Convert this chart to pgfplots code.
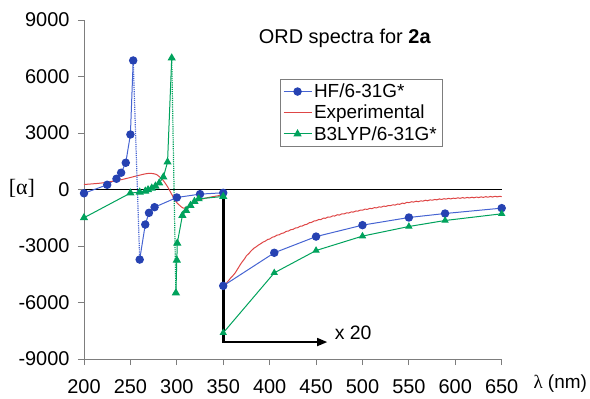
\documentclass[border=0pt]{standalone}
\usepackage{pgfplots}
\pgfplotsset{compat=1.18}
\usepackage{fontspec}
\setmainfont{Liberation Sans}
\newfontfamily\serif{Liberation Serif}
\usetikzlibrary{arrows.meta}
\definecolor{hfblue}{RGB}{38,66,178}
\definecolor{hfline}{RGB}{70,100,210}
\definecolor{expred}{RGB}{222,70,70}
\definecolor{bgreen}{RGB}{0,162,92}
\definecolor{axgray}{RGB}{125,125,125}

\pgfplotstableread{
x y
200 265
220 350
240 520
255 700
265 820
271 860
278 800
285 500
290 150
295 -300
300 -700
307 -990
312 -900
320 -650
330 -470
340 -370
350 -290
}\expA

\pgfplotstableread{
x y
350 -5190
353 -5000
355 -4880
358 -4700
360 -4600
363 -4420
365 -4260
368 -4020
370 -3870
373 -3680
375 -3520
378 -3380
380 -3260
383 -3120
385 -3060
388 -2950
390 -2890
393 -2790
395 -2750
398 -2650
400 -2630
403 -2530
405 -2510
408 -2420
410 -2410
413 -2330
415 -2310
418 -2220
420 -2210
423 -2130
425 -2120
428 -2040
430 -2030
433 -1950
435 -1940
438 -1870
440 -1850
443 -1760
445 -1750
448 -1670
450 -1660
453 -1590
455 -1600
458 -1520
460 -1530
463 -1460
465 -1470
468 -1400
470 -1410
473 -1340
475 -1360
478 -1290
480 -1300
483 -1240
485 -1250
488 -1190
490 -1200
493 -1140
495 -1150
498 -1090
500 -1100
503 -1040
505 -1060
508 -1000
510 -1020
513 -960
515 -980
518 -920
520 -940
523 -880
525 -900
528 -850
530 -860
533 -810
535 -830
538 -770
540 -790
543 -720
545 -750
548 -680
550 -700
553 -650
555 -670
558 -620
560 -650
563 -600
565 -620
568 -570
570 -600
573 -550
575 -570
578 -530
580 -550
583 -500
585 -530
588 -490
590 -510
593 -470
595 -500
598 -460
600 -480
603 -440
605 -470
608 -430
610 -460
613 -420
615 -450
618 -410
620 -440
623 -400
625 -430
628 -390
630 -420
633 -380
635 -410
638 -370
640 -400
643 -360
645 -390
648 -360
650 -380
}\expB

\begin{document}
\begin{tikzpicture}
\begin{axis}[name=ax, at={(0,0)}, anchor=south west,
 scale only axis, width=417.7bp, height=339bp,
 xmin=200, xmax=650, ymin=-9000, ymax=9000,
 axis x line=bottom, axis y line=left,
 axis line style={-, axgray, line width=0.8bp},
 tick align=outside, major tick length=6bp,
 tick style={axgray, line width=0.8bp},
 xtick={200,250,...,650}, ytick={-9000,-6000,...,9000},
 /pgf/number format/assume math mode=true, /pgf/number format/1000 sep={},
 ticklabel style={font=\fontsize{20}{24}\selectfont},
 xticklabel style={yshift=-11bp},
 yticklabel style={xshift=-5bp},
 clip=false,
 legend image code/.code={\draw[mark repeat=2,mark phase=2,#1] plot coordinates {(0bp,0bp) (14bp,0bp) (28bp,0bp)};},
 legend style={at={(axis cs:411,5880)}, anchor=north west, draw=axgray,
   font=\fontsize{19}{22}\selectfont, row sep=2bp, inner xsep=3bp, inner ysep=3bp},
 legend cell align=left,
]
% annotation lines
\draw[black, line width=1.5bp] (axis cs:200,0) -- (axis cs:650,0);
\draw[black, line width=3bp] (axis cs:350,0) -- (axis cs:350,-8100);
\draw[black, line width=1.5bp, -{Triangle[length=10bp,width=8bp]}] (axis cs:349,-8100) -- (axis cs:462,-8100);

% HF
\addplot[hfline, line width=1bp, mark=*, mark size=3.7bp, mark options={fill=hfblue, draw=hfblue}]
 coordinates {(200,-200)(225,250)(235,570)(240,890)(245,1420)(250,2920)(253,6850)};
\addlegendentry{HF/6-31G*}
% Experimental
\addplot[expred, line width=1bp, smooth, tension=0.4] table {\expA};
\addlegendentry{Experimental}
% B3LYP
\addplot[bgreen, line width=1bp, mark=triangle*, mark size=3.8bp, mark options={fill=bgreen, draw=bgreen}]
 coordinates {(200,-1500)(250,-190)(260,-140)(266,-90)(269,-16)(273,70)(277,180)(281,340)(285.5,660)(290,1455)(294.5,6980)};
\addlegendentry{B3LYP/6-31G*}

\addplot[expred, line width=1bp, forget plot] table {\expB};

\addplot[hfline, line width=1.2bp, densely dotted, forget plot] coordinates {(253,6850)(260,-3720)};
\addplot[bgreen, line width=1.2bp, densely dotted, forget plot] coordinates {(294.5,6980)(299,-5490)};

\addplot[hfline, line width=1bp, mark=*, mark size=3.7bp, mark options={fill=hfblue, draw=hfblue}, forget plot]
 coordinates {(260,-3720)(266,-1860)(270,-1240)(276,-940)(300,-425)(325,-245)(350,-175)};
\addplot[hfline, line width=1bp, mark=*, mark size=3.7bp, mark options={fill=hfblue, draw=hfblue}, forget plot]
 coordinates {(350,-5115)(405,-3360)(450,-2500)(500,-1893)(550,-1487)(589,-1275)(650,-990)};

\addplot[bgreen, line width=1bp, mark=triangle*, mark size=3.8bp, mark options={fill=bgreen, draw=bgreen}, forget plot]
 coordinates {(299,-5490)(300,-3750)(300.5,-2850)(306,-1380)(310,-1115)(314.7,-850)(319,-637)(323.5,-495)(350,-370)};
\addplot[bgreen, line width=1bp, mark=triangle*, mark size=3.3bp, mark options={fill=bgreen, draw=bgreen}, forget plot]
 coordinates {(350,-7610)(405,-4425)(450,-3240)(500,-2475)(550,-1965)(589,-1646)(650,-1290)};

\node[font=\fontsize{20}{24}\selectfont] at (axis cs:481,8000) {ORD spectra for \textbf{2a}};
\node[font=\serif\fontsize{22}{26}\selectfont] at (axis cs:133,50) {[α]};
\node[font=\fontsize{19}{22}\selectfont] at (axis cs:713,-10320) {{\serif λ} (nm)};
\node[font=\fontsize{19.5}{22}\selectfont] at (axis cs:490,-7610) {x 20};
\end{axis}
\pgfresetboundingbox
\path[use as bounding box] ([shift={(-84bp,-40bp)}]ax.south west) rectangle ([shift={(88.3bp,20bp)}]ax.north east);
\end{tikzpicture}
\end{document}
